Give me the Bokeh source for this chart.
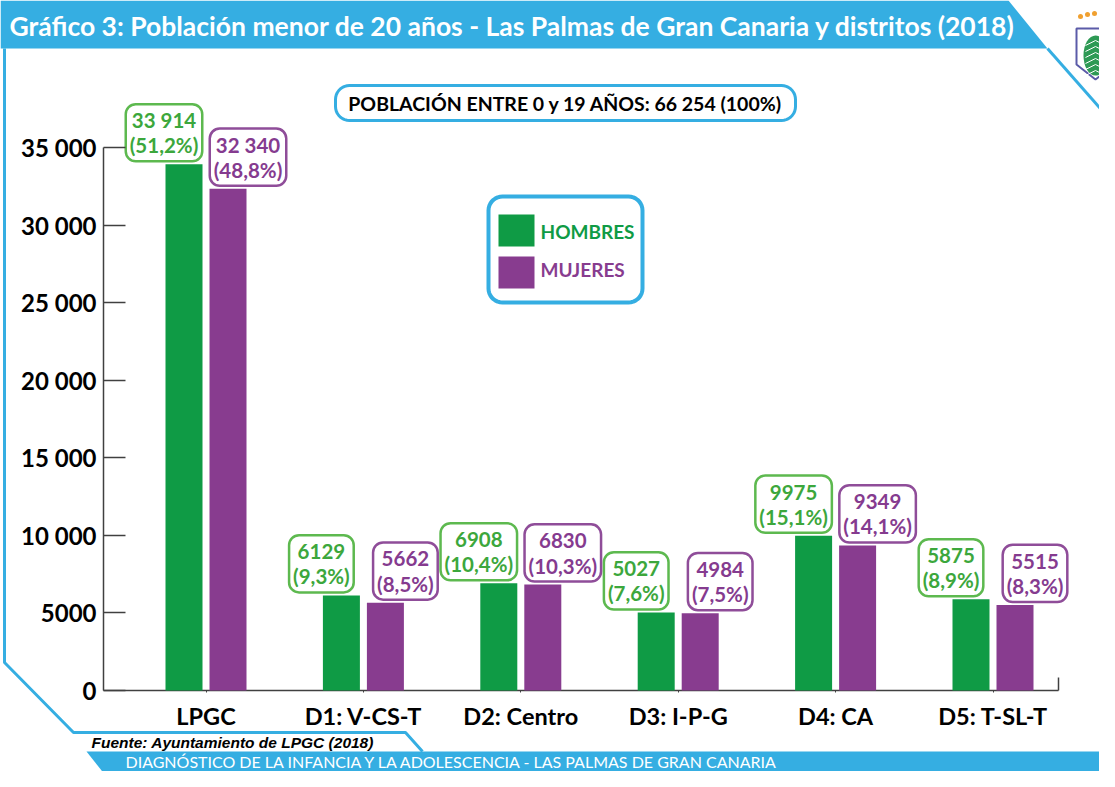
import numpy as np
from bokeh.plotting import figure
from bokeh.models import Range1d, FixedTicker, LinearAxis
from bokeh.core.properties import value
from bokeh.embed import file_html
from bokeh.resources import INLINE

# ---------------- data ----------------
categories = ["LPGC", "D1: V-CS-T", "D2: Centro", "D3: I-P-G", "D4: CA", "D5: T-SL-T"]
hombres = [33914, 6129, 6908, 5027, 9975, 5875]
mujeres = [32340, 5662, 6830, 4984, 9349, 5515]
pct_hombres = ["51,2%", "9,3%", "10,4%", "7,6%", "15,1%", "8,9%"]
pct_mujeres = ["48,8%", "8,5%", "10,3%", "7,5%", "14,1%", "8,3%"]
y_ticks = [0, 5000, 10000, 15000, 20000, 25000, 30000, 35000]
y_tick_labels = ["0", "5000", "10 000", "15 000", "20 000", "25 000", "30 000", "35 000"]
series_names = ["HOMBRES", "MUJERES"]
title_text = "Gráfico 3: Población menor de 20 años - Las Palmas de Gran Canaria y distritos (2018)"
total_text = "POBLACIÓN ENTRE 0 y 19 AÑOS: 66 254 (100%)"
source_text = "Fuente: Ayuntamiento de LPGC (2018)"
footer_text = "DIAGNÓSTICO DE LA INFANCIA Y LA ADOLESCENCIA - LAS PALMAS DE GRAN CANARIA"

# ---------------- style ----------------
GREEN = "#0f9b45"
PURPLE = "#883c8f"
GREEN_TXT = "#3ca73c"
GREEN_BRD = "#5db94f"
PURPLE_TXT = "#853b8f"
PURPLE_BRD = "#8f4d99"
BLUE = "#35aee2"
AXIS = "#404040"
FONT = "Lato"

W, H = 1099, 771
S = 157.4       # px per category
C0 = 205.5      # px of first category centre
Y0 = 690        # px of baseline
K = 543 / 35000 # px per unit


def dx(X):
    return (X - C0) / S


def dy(Y):
    return (Y0 - Y) / K


def fmt(v):
    return f"{v:,}".replace(",", " ") if v >= 10000 else str(v)


p = figure(width=W, height=H,
           x_range=Range1d(dx(0), dx(W)), y_range=Range1d(dy(H), dy(0)),
           output_backend="svg", toolbar_location=None, min_border=0,
           x_axis_location=None, y_axis_location=None)
p.extra_x_ranges = {"px": Range1d(0, W)}
p.extra_y_ranges = {"px": Range1d(H, 0)}
p.grid.visible = False
p.outline_line_color = None
p.background_fill_color = "white"
p.border_fill_color = "white"

PX = dict(x_range_name="px", y_range_name="px")


def rrect(x0, y0, x1, y1, r, n=10):
    xs, ys = [], []
    for cx, cy, a0, a1 in [(x1 - r, y0 + r, -90, 0), (x1 - r, y1 - r, 0, 90),
                           (x0 + r, y1 - r, 90, 180), (x0 + r, y0 + r, 180, 270)]:
        a = np.radians(np.linspace(a0, a1, n))
        xs += list(cx + r * np.cos(a))
        ys += list(cy + r * np.sin(a))
    return xs, ys


# ---------------- decorations ----------------
# top banner
p.patch([0, 1008, 1047, 0], [0, 0, 48, 48], fill_color=BLUE, line_color=None, **PX)
p.line([1047, 1120], [48, 131], line_color=BLUE, line_width=3, **PX)
p.text(x=[9], y=[25], text=[title_text], text_color="white",
       text_font=value(FONT), text_font_style="bold", text_font_size="26.5px",
       text_baseline="middle", text_align="left", **PX)
# left border
p.line([4, 4, 73, 405, 422], [48, 662, 732, 732, 751], line_color=BLUE, line_width=3, **PX)
# footer banner
p.patch([86, 1120, 1120, 105], [751, 751, 775, 775], fill_color=BLUE, line_color=None, **PX)
p.text(x=[125], y=[761], text=[footer_text], text_color="white",
       text_font=value(FONT), text_font_size="16px",
       text_baseline="middle", text_align="left", **PX)
p.text(x=[91], y=[742], text=[source_text], text_color="black",
       text_font=value("Liberation Sans"), text_font_style="bold italic", text_font_size="15.5px",
       text_baseline="middle", text_align="left", **PX)

# logo (coat of arms, simplified)
p.patch([1076, 1114, 1114, 1095, 1076], [28, 28, 64, 79, 64], fill_color="white",
        line_color="#5b5ba8", line_width=2, **PX)
p.ellipse(x=[1095], y=[55], width=24, height=40, fill_color="#2e9a55", line_color=None, **PX)
for k in range(6):
    yy = 40 + k * 6
    p.line([1085, 1095, 1105], [yy + 5, yy, yy + 5], line_color="white", line_width=1, **PX)
p.scatter(x=[1080, 1087, 1094, 1101, 1108], y=[16, 14, 13, 14, 16], size=5,
          fill_color="#f0a030", line_color=None, **PX)

# total box
bx, by = rrect(335, 85, 795, 120, 14)
p.patch(bx, by, fill_color="white", line_color=BLUE, line_width=3, **PX)
p.text(x=[565], y=[103], text=[total_text], text_color="black",
       text_font=value(FONT), text_font_style="bold", text_font_size="19.5px",
       text_baseline="middle", text_align="center", **PX)

# legend box
lx, ly = rrect(488, 196, 642, 302, 14)
p.patch(lx, ly, fill_color="white", line_color=BLUE, line_width=4, **PX)
p.quad(left=[498, 498], right=[534, 534], top=[214, 256], bottom=[246, 288],
       fill_color=[GREEN, PURPLE], line_color=None, **PX)
p.text(x=[540, 540], y=[231, 269], text=series_names, text_color=[GREEN, PURPLE],
       text_font=value(FONT), text_font_style="bold", text_font_size="19px",
       text_baseline="middle", text_align="left", **PX)

# right end tick of x axis
p.line([1058, 1058], [677, 690], line_color=AXIS, line_width=1.5, **PX)

# ---------------- axes ----------------
xs = np.arange(len(categories))

yaxis = LinearAxis(fixed_location=dx(103), bounds=(0, 35000),
                   ticker=FixedTicker(ticks=y_ticks),
                   major_label_overrides={t: l for t, l in zip(y_ticks, y_tick_labels)})
yaxis.axis_line_color = AXIS
yaxis.axis_line_width = 1.5
yaxis.major_tick_line_color = AXIS
yaxis.major_tick_line_width = 1.5
yaxis.major_tick_in = 22
yaxis.major_tick_out = 0
yaxis.minor_tick_line_color = None
yaxis.major_label_standoff = 7
yaxis.major_label_text_font = FONT
yaxis.major_label_text_font_style = "bold"
yaxis.major_label_text_font_size = "24px"
yaxis.major_label_text_color = "black"
p.add_layout(yaxis, "left")

xaxis = LinearAxis(fixed_location=0, bounds=(dx(103), dx(1058)),
                   ticker=FixedTicker(ticks=list(xs)),
                   major_label_overrides={int(i): c for i, c in zip(xs, categories)})
xaxis.axis_line_color = AXIS
xaxis.axis_line_width = 1.5
xaxis.major_tick_line_color = AXIS
xaxis.major_tick_in = 0
xaxis.major_tick_out = 2
xaxis.minor_tick_line_color = None
xaxis.major_label_standoff = 9
xaxis.major_label_text_font = FONT
xaxis.major_label_text_font_style = "bold"
xaxis.major_label_text_font_size = "23.5px"
xaxis.major_label_text_color = "black"
xaxis.level = "underlay"
p.add_layout(xaxis, "below")

# ---------------- bars ----------------
BW = 37 / S
OFF = 22 / S
p.vbar(x=xs - OFF, top=hombres, bottom=0, width=BW, fill_color=GREEN, line_color=None)
p.vbar(x=xs + OFF, top=mujeres, bottom=0, width=BW, fill_color=PURPLE, line_color=None)

# ---------------- value labels ----------------
LOFF = 42 / S
lab_h = [f"{fmt(v)}\n({pc})" for v, pc in zip(hombres, pct_hombres)]
lab_m = [f"{fmt(v)}\n({pc})" for v, pc in zip(mujeres, pct_mujeres)]
p.text(x=xs - LOFF, y=hombres, text=lab_h, y_offset=-3,
       text_color=GREEN_TXT, text_font=value(FONT), text_font_style="bold", text_font_size="20.5px",
       text_align="center", text_baseline="bottom", text_line_height=1.05,
       background_fill_color="white", border_line_color=GREEN_BRD, border_line_width=2.5,
       border_radius=10, padding=4)
p.text(x=xs + LOFF, y=mujeres, text=lab_m, y_offset=-3,
       text_color=PURPLE_TXT, text_font=value(FONT), text_font_style="bold", text_font_size="20.5px",
       text_align="center", text_baseline="bottom", text_line_height=1.05,
       background_fill_color="white", border_line_color=PURPLE_BRD, border_line_width=2.5,
       border_radius=10, padding=4)

open("out.html", "w").write(file_html(p, INLINE))
